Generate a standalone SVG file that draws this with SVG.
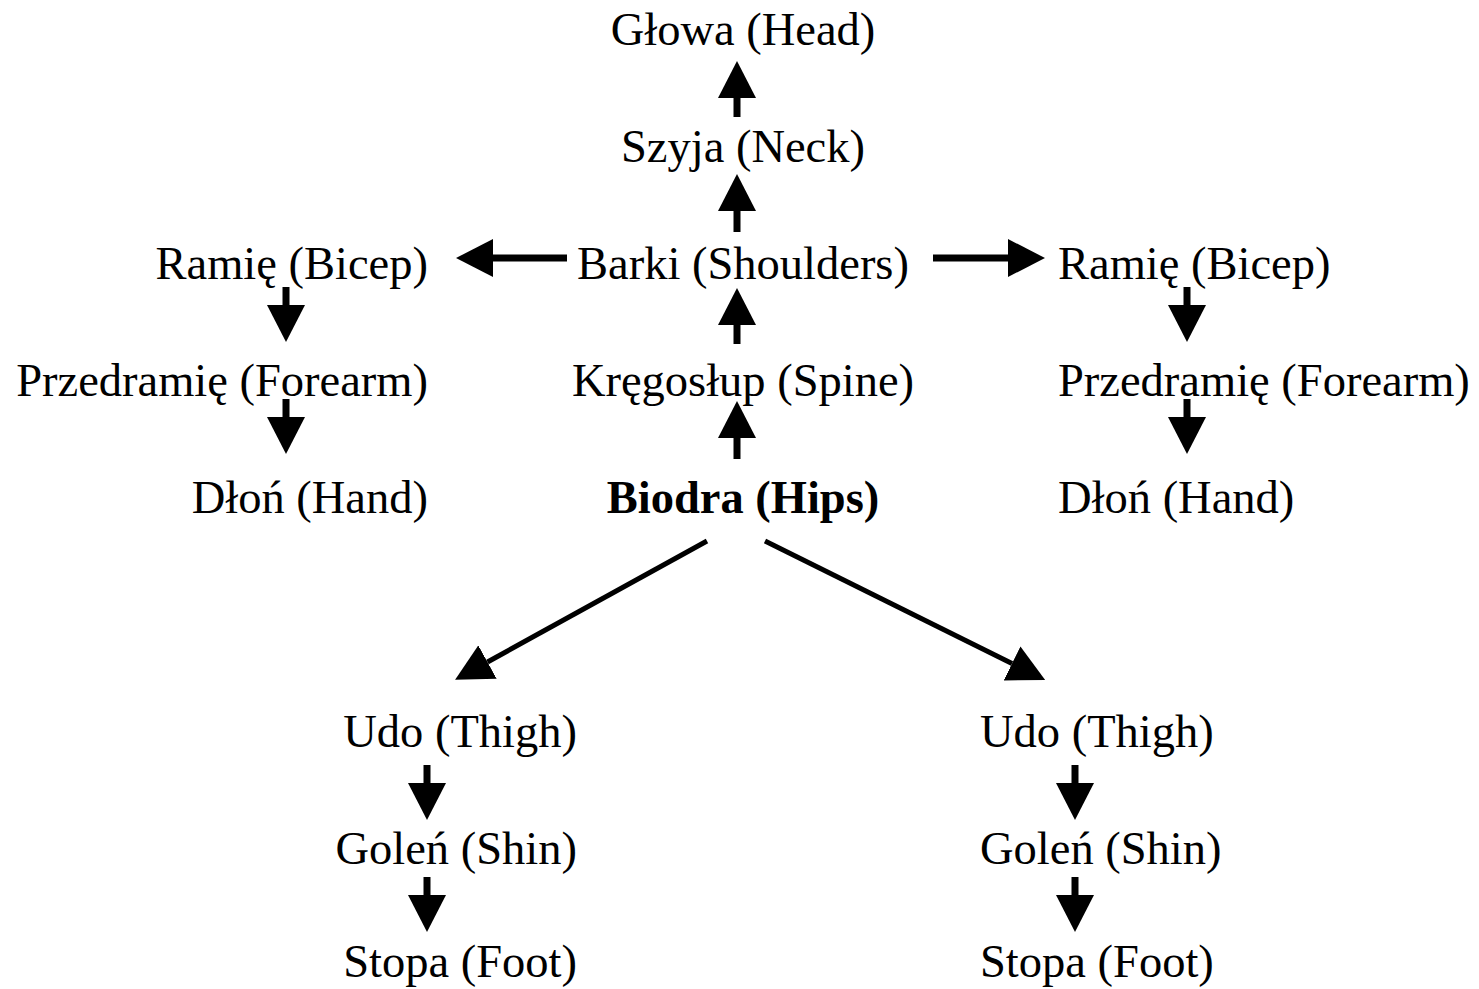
<svg xmlns="http://www.w3.org/2000/svg" width="1479" height="989" viewBox="0 0 1479 989">
<style>
text{font-family:"Liberation Serif","Times New Roman",serif;font-size:46.5px;fill:#000}
.b{font-weight:bold}
.c{text-anchor:middle}
.e{text-anchor:end}
.s{stroke:#000;stroke-width:7;fill:none;marker-end:url(#ah)}
.d{stroke:#000;stroke-width:5;fill:none;marker-end:url(#ah)}
</style>
<defs>
<marker id="ah" markerUnits="userSpaceOnUse" viewBox="0 0 37 38" markerWidth="37" markerHeight="38" refX="0" refY="19" orient="auto">
<path d="M0,0 L37,19 L0,38 Z" fill="#000"/>
</marker>
</defs>
<rect width="1479" height="989" fill="#fff"/>
<g id="connectors">
<line class="s" x1="737" y1="117" x2="737" y2="98"/>
<line class="s" x1="737" y1="232" x2="737" y2="211"/>
<line class="s" x1="737" y1="344" x2="737" y2="325"/>
<line class="s" x1="737" y1="459" x2="737" y2="438"/>
<line class="s" x1="567" y1="258" x2="493" y2="258"/>
<line class="s" x1="933" y1="258" x2="1008" y2="258"/>
<line class="s" x1="286" y1="287" x2="286" y2="305"/>
<line class="s" x1="286" y1="399" x2="286" y2="417"/>
<line class="s" x1="1187" y1="287" x2="1187" y2="305"/>
<line class="s" x1="1187" y1="399" x2="1187" y2="417"/>
<line class="d" x1="707" y1="541" x2="487.5" y2="662"/>
<line class="d" x1="765" y1="541" x2="1012" y2="663.5"/>
<line class="s" x1="427" y1="765" x2="427" y2="783"/>
<line class="s" x1="427" y1="877" x2="427" y2="895"/>
<line class="s" x1="1075" y1="765" x2="1075" y2="783"/>
<line class="s" x1="1075" y1="877" x2="1075" y2="895"/>
</g>
<g id="head"><text class="c" x="743" y="45">Głowa (Head)</text></g>
<g id="neck"><text class="c" x="743" y="162">Szyja (Neck)</text></g>
<g id="shoulders"><text class="c" x="743" y="279">Barki (Shoulders)</text></g>
<g id="spine"><text class="c" x="743" y="396">Kręgosłup (Spine)</text></g>
<g id="hips"><text class="c b" x="743" y="513">Biodra (Hips)</text></g>
<g id="bicep-left"><text class="e" x="428" y="279">Ramię (Bicep)</text></g>
<g id="forearm-left"><text class="e" x="428" y="396">Przedramię (Forearm)</text></g>
<g id="hand-left"><text class="e" x="428" y="513">Dłoń (Hand)</text></g>
<g id="bicep-right"><text x="1058" y="279">Ramię (Bicep)</text></g>
<g id="forearm-right"><text x="1058" y="396">Przedramię (Forearm)</text></g>
<g id="hand-right"><text x="1058" y="513">Dłoń (Hand)</text></g>
<g id="thigh-left"><text class="e" x="577" y="747">Udo (Thigh)</text></g>
<g id="shin-left"><text class="e" x="577" y="864">Goleń (Shin)</text></g>
<g id="foot-left"><text class="e" x="577" y="977">Stopa (Foot)</text></g>
<g id="thigh-right"><text x="980" y="747">Udo (Thigh)</text></g>
<g id="shin-right"><text x="980" y="864">Goleń (Shin)</text></g>
<g id="foot-right"><text x="980" y="977">Stopa (Foot)</text></g>
</svg>
